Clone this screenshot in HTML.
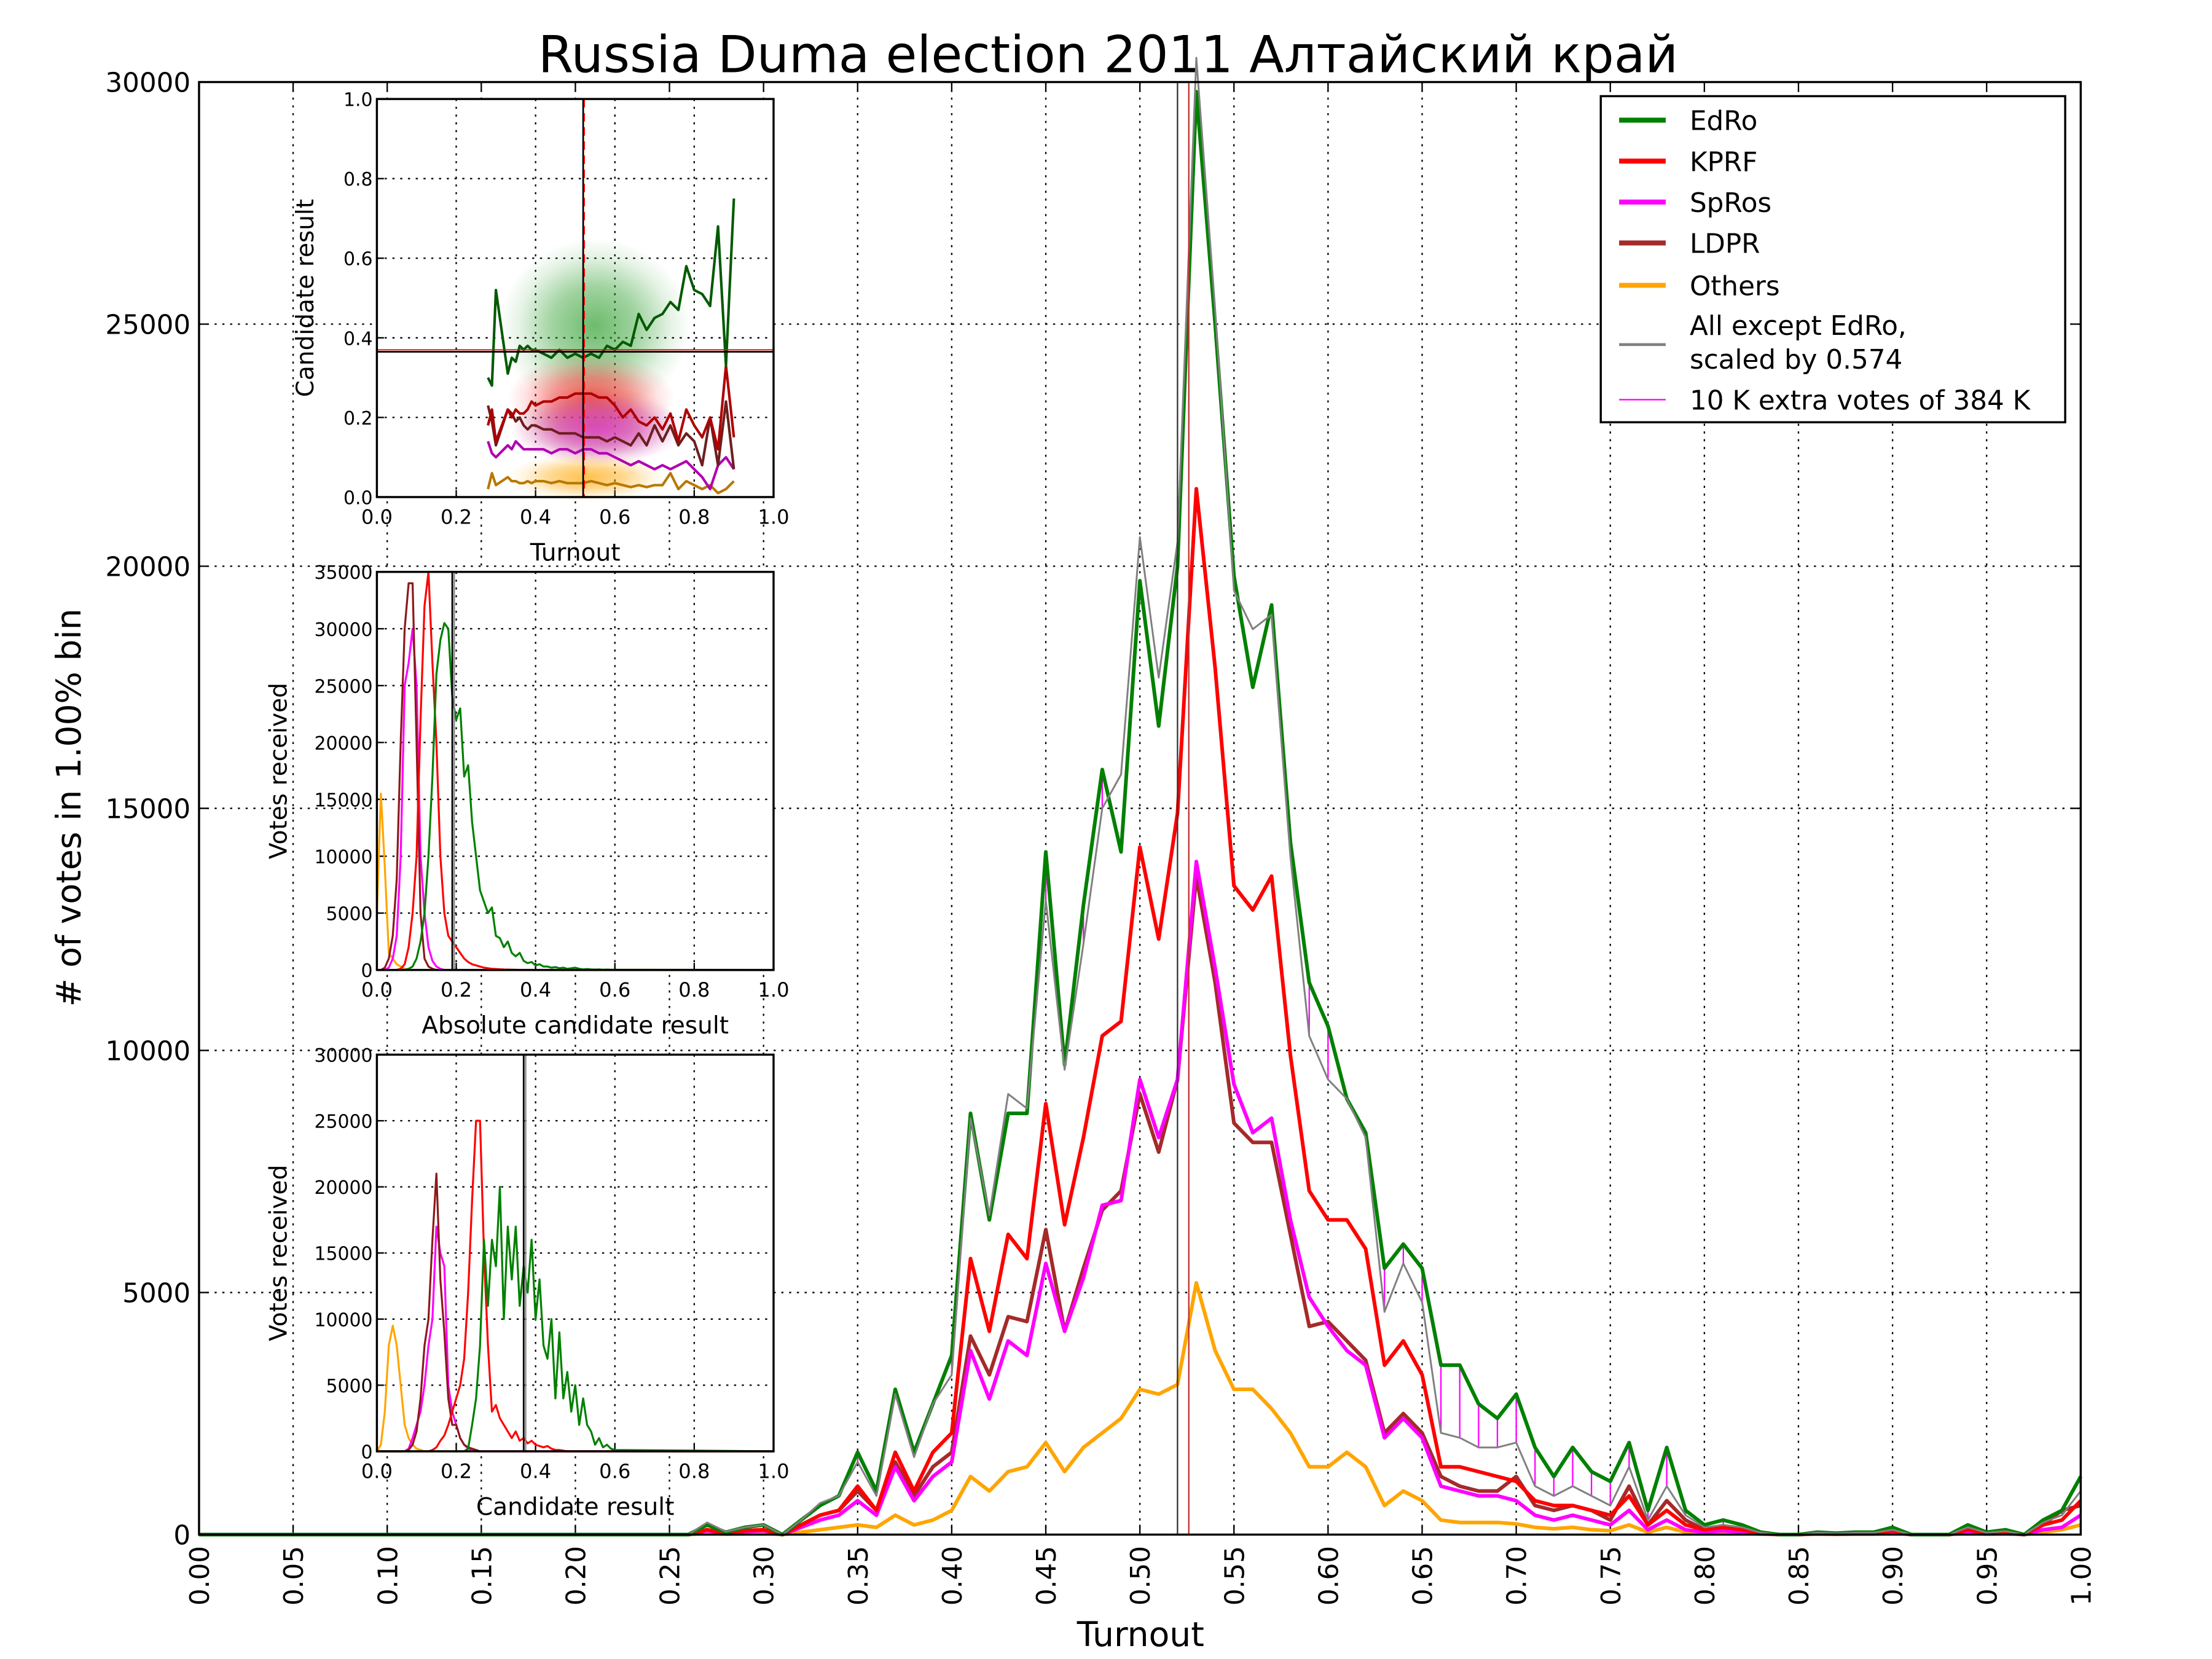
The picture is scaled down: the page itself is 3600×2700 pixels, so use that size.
<!DOCTYPE html>
<html><head><meta charset="utf-8">
<style>
html,body{margin:0;padding:0;background:#fff;}
svg{display:block;font-family:"DejaVu Sans","Liberation Sans","Noto Sans CJK SC",sans-serif;}
</style></head>
<body>
<svg id="chart" width="3600" height="2700" viewBox="0 0 1567 1175" xmlns="http://www.w3.org/2000/svg">
<rect x="0" y="0" width="1567" height="1175" fill="#fff"/>
<text x="785" y="51" font-size="36" text-anchor="middle">Russia Duma election 2011 Алтайский край</text>
<g id="main"></g>
<g id="ins1"></g>
<g id="ins2"></g>
<g id="ins3"></g>
<g id="legend"></g>
</svg>
<script>
// ---------- main chart data ----------
const turnoutStart = 0.26; // series below start are zero
const edro   = [0,200,50,150,200,0,300,600,800,1700,900,3000,1700,2700,3700,8700,6500,8700,8700,14100,9700,13000,15800,14100,19700,16700,20000,29800,25000,19800,17500,19200,14300,11400,10500,9000,8300,5500,6000,5500,3500,3500,2700,2400,2900,1800,1200,1800,1300,1100,1900,500,1800,500,200,300,200,50,0,0,50,30,50,50,150,0,0,0,200,50,100,0,300,500,1200];
const kprf   = [0,100,30,80,100,0,200,400,500,1000,500,1700,900,1700,2100,5700,4200,6200,5700,8900,6400,8200,10300,10600,14200,12300,14900,21600,17900,13400,12900,13600,9900,7100,6500,6500,5900,3500,4000,3300,1400,1400,1300,1200,1100,700,600,600,500,400,800,200,500,200,100,150,100,30,0,0,30,20,30,30,80,0,0,0,100,30,50,0,200,300,700];
const spros  = [0,80,20,60,80,0,150,300,400,700,400,1400,700,1200,1500,3800,2800,4000,3700,5600,4200,5300,6800,6900,9400,8200,9400,13900,11700,9300,8300,8600,6500,4900,4300,3800,3500,2000,2400,2000,1000,900,800,800,700,400,300,400,300,200,500,100,300,100,50,80,50,20,0,0,20,10,20,20,50,0,0,0,60,20,30,0,100,150,400];
const ldpr   = [0,100,30,80,100,0,200,400,500,900,500,1500,800,1400,1700,4100,3300,4500,4400,6300,4200,5500,6700,7100,9100,7900,9400,13600,11400,8500,8100,8100,6200,4300,4400,4000,3600,2100,2500,2100,1200,1000,900,900,1200,600,500,600,500,300,1000,200,700,300,100,150,100,30,0,0,30,20,30,30,80,0,0,0,100,30,50,0,200,500,600];
const others = [0,30,10,20,30,0,50,100,150,200,150,400,200,300,500,1200,900,1300,1400,1900,1300,1800,2100,2400,3000,2900,3100,5200,3800,3000,3000,2600,2100,1400,1400,1700,1400,600,900,700,300,250,250,250,220,150,120,150,100,80,200,50,150,50,30,40,30,10,0,0,10,5,10,10,30,0,0,0,30,10,20,0,50,100,200];
const allExcept = [0,250,60,150,200,0,300,650,800,1500,800,2900,1600,2700,3300,8600,6600,9100,8800,13100,9600,12200,15000,15700,20600,17700,20500,30500,25300,19500,18700,19000,14000,10300,9400,9000,8200,4600,5600,4800,2100,2000,1800,1800,1900,1000,800,1000,800,600,1400,300,1000,400,150,200,150,40,0,0,40,25,40,40,100,0,0,0,150,40,70,0,250,400,900];
const xTicks = ["0.00","0.05","0.10","0.15","0.20","0.25","0.30","0.35","0.40","0.45","0.50","0.55","0.60","0.65","0.70","0.75","0.80","0.85","0.90","0.95","1.00"];
const yTicks = [0,5000,10000,15000,20000,25000,30000];
const meanTurnoutLines = [0.52, 0.526];

// ---------- inset 1 (scatter) data: mean result per turnout bin ----------
const ins1Turnout = [0.28,0.29,0.30,0.33,0.34,0.35,0.36,0.37,0.38,0.39,0.40,0.42,0.44,0.46,0.48,0.50,0.52,0.54,0.56,0.58,0.60,0.62,0.64,0.66,0.68,0.70,0.72,0.74,0.76,0.78,0.80,0.82,0.84,0.86,0.88,0.90];
const ins1EdRo  = [0.30,0.28,0.52,0.31,0.35,0.34,0.38,0.37,0.38,0.37,0.37,0.36,0.35,0.37,0.35,0.36,0.35,0.36,0.35,0.38,0.37,0.39,0.38,0.46,0.42,0.45,0.46,0.49,0.47,0.58,0.52,0.51,0.48,0.68,0.33,0.75];
const ins1Kprf  = [0.18,0.22,0.14,0.22,0.20,0.22,0.21,0.21,0.22,0.24,0.23,0.24,0.24,0.25,0.25,0.26,0.26,0.26,0.25,0.25,0.23,0.20,0.22,0.19,0.18,0.20,0.17,0.21,0.14,0.22,0.18,0.15,0.20,0.12,0.33,0.15];
const ins1Ldpr  = [0.23,0.19,0.13,0.22,0.21,0.19,0.20,0.18,0.17,0.18,0.18,0.17,0.17,0.16,0.16,0.16,0.15,0.15,0.15,0.14,0.15,0.14,0.13,0.16,0.13,0.18,0.14,0.18,0.13,0.16,0.14,0.08,0.20,0.08,0.24,0.07];
const ins1Spros = [0.14,0.11,0.10,0.13,0.12,0.14,0.13,0.12,0.12,0.12,0.12,0.12,0.11,0.12,0.12,0.11,0.12,0.12,0.11,0.11,0.10,0.09,0.08,0.09,0.08,0.07,0.08,0.07,0.08,0.09,0.07,0.05,0.02,0.08,0.10,0.07];
const ins1Others= [0.02,0.06,0.03,0.05,0.04,0.04,0.035,0.035,0.04,0.035,0.04,0.04,0.035,0.04,0.035,0.035,0.035,0.04,0.035,0.03,0.035,0.03,0.025,0.03,0.025,0.03,0.03,0.06,0.02,0.04,0.03,0.02,0.03,0.01,0.02,0.04];

// ---------- inset 2 (absolute candidate result histograms) ----------
const ins2Bins = Array.from({length:61},(_,i)=>i/100);
const ins2EdRo  = [0,0,0,0,0,0,0,0,100,300,1000,2500,5000,10000,17000,26000,29000,30500,30000,24000,22000,23000,17000,18000,13000,10000,7000,6000,5000,5500,3000,2800,2000,2500,1500,1200,1500,800,600,700,400,500,300,300,200,250,150,200,100,150,200,100,50,80,50,30,50,20,30,20,10];
const ins2Kprf  = [0,0,0,0,0,0,100,500,2000,5000,10000,22000,32000,35000,27000,20000,10000,5000,3000,2500,2000,1500,1000,700,500,400,300,200,150,100,80,60,40,30,20,10,0,0,0,0,0,0,0,0,0,0,0,0,0,0,0,0,0,0,0,0,0,0,0,0,0];
const ins2Ldpr  = [0,0,200,1000,3000,8000,20000,30000,34000,34000,20000,5000,1000,300,100,0,0,0,0,0,0,0,0,0,0,0,0,0,0,0,0,0,0,0,0,0,0,0,0,0,0,0,0,0,0,0,0,0,0,0,0,0,0,0,0,0,0,0,0,0,0];
const ins2Spros = [0,0,0,200,1000,3000,10000,25000,27000,30000,25000,10000,5000,2000,800,300,100,0,0,0,0,0,0,0,0,0,0,0,0,0,0,0,0,0,0,0,0,0,0,0,0,0,0,0,0,0,0,0,0,0,0,0,0,0,0,0,0,0,0,0,0];
const ins2Others= [5000,15500,9000,1500,1000,500,300,100,0,0,0,0,0,0,0,0,0,0,0,0,0,0,0,0,0,0,0,0,0,0,0,0,0,0,0,0,0,0,0,0,0,0,0,0,0,0,0,0,0,0,0,0,0,0,0,0,0,0,0,0,0];
const ins2Ticks = [0,5000,10000,15000,20000,25000,30000,35000];

// ---------- inset 3 (candidate result histograms) ----------
const ins3EdRo  = [0,0,0,0,0,0,0,0,0,0,0,0,0,0,0,0,0,0,0,0,0,0,0,200,2000,4000,8000,16000,11000,16000,14000,20000,10000,17000,13000,17000,11000,14000,12000,16000,10000,13000,8000,7000,10000,4000,9000,4000,6000,3000,5000,2000,4000,2000,1500,500,1000,300,500,200,100];
const ins3Kprf  = [0,0,0,0,0,0,0,0,0,0,0,0,0,0,100,300,800,1200,2000,3000,4000,5000,7000,12000,19000,25000,25000,15000,8000,3000,3500,2500,2000,1500,1000,1500,800,1000,600,800,500,400,300,400,200,100,100,50,0,0,0,0,0,0,0,0,0,0,0,0,0];
const ins3Ldpr  = [0,0,0,0,0,0,0,0,100,500,1500,4000,8000,10000,16000,21000,13000,9000,4000,2000,2000,1000,500,300,200,100,0,0,0,0,0,0,0,0,0,0,0,0,0,0,0,0,0,0,0,0,0,0,0,0,0,0,0,0,0,0,0,0,0,0,0];
const ins3Spros = [0,0,0,0,0,0,0,0,200,1000,2000,3000,5000,8000,10000,17000,15000,14000,5000,3000,2000,1000,500,200,100,0,0,0,0,0,0,0,0,0,0,0,0,0,0,0,0,0,0,0,0,0,0,0,0,0,0,0,0,0,0,0,0,0,0,0,0];
const ins3Others= [0,500,3000,8000,9500,8000,5000,2000,1000,500,200,100,0,0,0,0,0,0,0,0,0,0,0,0,0,0,0,0,0,0,0,0,0,0,0,0,0,0,0,0,0,0,0,0,0,0,0,0,0,0,0,0,0,0,0,0,0,0,0,0,0];
const ins3Ticks = [0,5000,10000,15000,20000,25000,30000];

const NS="http://www.w3.org/2000/svg";
function mk(parent,tag,attrs,text){const e=document.createElementNS(NS,tag);for(const k in attrs)e.setAttribute(k,attrs[k]);if(text!==undefined)e.textContent=text;parent.appendChild(e);return e;}
function poly(parent,pts,color,w,name){
  const p=mk(parent,'polyline',{points:pts.map(p=>p[0].toFixed(2)+','+p[1].toFixed(2)).join(' '),fill:'none',stroke:color,'stroke-width':w,'stroke-linejoin':'round'});
  
  
  return p;
}

// ---------- main ----------
const M={l:141,r:1474,t:58,b:1087};
const mx=v=>M.l+(M.r-M.l)*v;
const my=v=>M.b-(M.b-M.t)*v/30000;
const main=document.getElementById('main');
xTicks.forEach(t=>{const v=parseFloat(t);const x=mx(v);
  if(v>0&&v<1){const g=mk(main,'line',{x1:x,x2:x,y1:M.t,y2:M.b,stroke:'#000','stroke-width':1,'stroke-dasharray':'1.5,4'});}
  mk(main,'line',{x1:x,x2:x,y1:M.b,y2:M.b-7,stroke:'#000','stroke-width':1});
  mk(main,'line',{x1:x,x2:x,y1:M.t,y2:M.t+7,stroke:'#000','stroke-width':1});
  const tx=mk(main,'text',{x:0,y:0,'font-size':19,'text-anchor':'end',transform:`translate(${x+7},${M.b+8}) rotate(-90)`},t);
  
});
yTicks.forEach(v=>{const y=my(v);
  if(v>0&&v<30000){const g=mk(main,'line',{x1:M.l,x2:M.r,y1:y,y2:y,stroke:'#000','stroke-width':1,'stroke-dasharray':'1.5,4'});}
  mk(main,'line',{x1:M.l,x2:M.l+7,y1:y,y2:y,stroke:'#000'});
  mk(main,'line',{x1:M.r,x2:M.r-7,y1:y,y2:y,stroke:'#000'});
  const tx=mk(main,'text',{x:M.l-6,y:y+7,'font-size':19,'text-anchor':'end'},String(v));
  
});
const xl=mk(main,'text',{x:808,y:1166,'font-size':24,'text-anchor':'middle'},'Turnout');

const yl=mk(main,'text',{x:0,y:0,'font-size':24,'text-anchor':'middle',transform:'translate(57,572) rotate(-90)'},'# of votes in 1.00% bin');


function seriesPts(arr){const pts=[[mx(0),my(0)]];arr.forEach((v,i)=>{pts.push([mx(turnoutStart+i*0.01),my(v)]);});return pts;}
edro.forEach((v,i)=>{const g=allExcept[i];if(v>g){const x=mx(turnoutStart+i*0.01);const l=mk(main,'line',{x1:x,x2:x,y1:my(g),y2:my(v),stroke:'#ff00ff','stroke-width':1});}});
poly(main,seriesPts(others),'#ffa500',2.6,'others-line');
poly(main,seriesPts(ldpr),'#a52a2a',2.6,'ldpr-line');
poly(main,seriesPts(spros),'#ff00ff',2.6,'spros-line');
poly(main,seriesPts(kprf),'#ff0000',2.6,'kprf-line');
poly(main,seriesPts(edro),'#008000',2.6,'edro-line');
poly(main,seriesPts(allExcept),'#808080',1.3,'all-except-edro-line');
const ml1=mk(main,'line',{x1:mx(meanTurnoutLines[0]),x2:mx(meanTurnoutLines[0]),y1:M.t,y2:M.b,stroke:'#333','stroke-width':1});

const ml2=mk(main,'line',{x1:mx(meanTurnoutLines[1]),x2:mx(meanTurnoutLines[1]),y1:M.t,y2:M.b,stroke:'#c03030','stroke-width':1});

const fr=mk(main,'rect',{x:M.l,y:M.t,width:M.r-M.l,height:M.b-M.t,fill:'none',stroke:'#000','stroke-width':1.5});


function inset(gid,box,yMax,yTickVals,xLabel,yLabel,name,tickFs){
  const g=document.getElementById(gid);
  
  
  mk(g,'rect',{x:box.l,y:box.t,width:box.r-box.l,height:box.b-box.t,fill:'#fff'});
  const fx=v=>box.l+(box.r-box.l)*v, fy=v=>box.b-(box.b-box.t)*v/yMax;
  [0,0.2,0.4,0.6,0.8,1.0].forEach(v=>{const x=fx(v);
    if(v>0&&v<1)mk(g,'line',{x1:x,x2:x,y1:box.t,y2:box.b,stroke:'#000','stroke-width':1,'stroke-dasharray':'1.5,4'});
    mk(g,'line',{x1:x,x2:x,y1:box.b,y2:box.b-5,stroke:'#000'});
    const t=mk(g,'text',{x:x,y:box.b+19,'font-size':14,'text-anchor':'middle'},v.toFixed(1));
    
  });
  yTickVals.forEach(v=>{const y=fy(v);
    if(v>0&&v<yMax)mk(g,'line',{x1:box.l,x2:box.r,y1:y,y2:y,stroke:'#000','stroke-width':1,'stroke-dasharray':'1.5,4'});
    mk(g,'line',{x1:box.l,x2:box.l+5,y1:y,y2:y,stroke:'#000'});
    const t=mk(g,'text',{x:box.l-3,y:y+5,'font-size':tickFs,'text-anchor':'end'},yMax===1?v.toFixed(1):String(v));
    
  });
  const xt=mk(g,'text',{x:(box.l+box.r)/2,y:box.b+45,'font-size':17,'text-anchor':'middle'},xLabel);
  
  const yt=mk(g,'text',{x:0,y:0,'font-size':17,'text-anchor':'middle',transform:`translate(${box.l-(yMax===1?45:64)},${(box.t+box.b)/2}) rotate(-90)`},yLabel);
  
  return {g,fx,fy};
}

const b1={l:267,r:548,t:70,b:352};
const I1=inset('ins1',b1,1,[0,0.2,0.4,0.6,0.8,1.0],'Turnout','Candidate result','scatter-inset',13);
const defs=mk(document.getElementById('chart'),'defs',{});
[['gG','#2e9e2e'],['gR','#ff2020'],['gM','#e040e0'],['gB','#b03a3a'],['gO','#ffa500']].forEach(([id,c])=>{
  const rg=mk(defs,'radialGradient',{id:id});
  mk(rg,'stop',{offset:'0','stop-color':c,'stop-opacity':0.7});
  mk(rg,'stop',{offset:'0.45','stop-color':c,'stop-opacity':0.45});
  mk(rg,'stop',{offset:'0.8','stop-color':c,'stop-opacity':0.12});
  mk(rg,'stop',{offset:'1','stop-color':c,'stop-opacity':0});
});
const clouds=[['gG',0.55,0.43,0.24,0.22,'edro-scatter-cloud'],['gR',0.54,0.25,0.21,0.11,'kprf-scatter-cloud'],['gB',0.55,0.18,0.21,0.10,'ldpr-scatter-cloud'],['gM',0.56,0.17,0.22,0.09,'spros-scatter-cloud'],['gO',0.53,0.05,0.2,0.06,'others-scatter-cloud']];
clouds.forEach(c=>{const e=mk(I1.g,'ellipse',{cx:I1.fx(c[1]),cy:I1.fy(c[2]),rx:(b1.r-b1.l)*c[3],ry:(b1.b-b1.t)*c[4],fill:`url(#${c[0]})`});});
function ins1Line(arr,color,name){poly(I1.g,ins1Turnout.map((t,i)=>[I1.fx(t),I1.fy(arr[i])]),color,1.8,name);}
ins1Line(ins1Others,'#b87800','others-mean-line');
ins1Line(ins1Spros,'#b000b0','spros-mean-line');
ins1Line(ins1Ldpr,'#6e1e1e','ldpr-mean-line');
ins1Line(ins1Kprf,'#b00000','kprf-mean-line');
ins1Line(ins1EdRo,'#005a00','edro-mean-line');
mk(I1.g,'line',{x1:b1.l,x2:b1.r,y1:I1.fy(0.365),y2:I1.fy(0.365),stroke:'#000','stroke-width':1.2});
mk(I1.g,'line',{x1:b1.l,x2:b1.r,y1:I1.fy(0.37),y2:I1.fy(0.37),stroke:'#f00','stroke-width':0.8});
mk(I1.g,'line',{x1:I1.fx(0.52),x2:I1.fx(0.52),y1:b1.t,y2:b1.b,stroke:'#000','stroke-width':1.2});
mk(I1.g,'line',{x1:I1.fx(0.523),x2:I1.fx(0.523),y1:b1.t,y2:b1.b,stroke:'#f00','stroke-width':0.8,'stroke-dasharray':'6,4'});
mk(I1.g,'rect',{x:b1.l,y:b1.t,width:b1.r-b1.l,height:b1.b-b1.t,fill:'none',stroke:'#000','stroke-width':1.5});

const b2={l:267,r:548,t:405,b:687};
const I2=inset('ins2',b2,35000,ins2Ticks,'Absolute candidate result','Votes received','absolute-result-inset',13);
function hist(I,arr,color,name){poly(I.g,arr.map((v,i)=>[I.fx(ins2Bins[i]),I.fy(v)]).concat([[I.fx(1),I.fy(0)]]),color,1.4,name);}
hist(I2,ins2Others,'#ffa500','others-abs-hist');
hist(I2,ins2Spros,'#ff00ff','spros-abs-hist');
hist(I2,ins2Ldpr,'#8b1a1a','ldpr-abs-hist');
hist(I2,ins2Kprf,'#ff0000','kprf-abs-hist');
hist(I2,ins2EdRo,'#008000','edro-abs-hist');
mk(I2.g,'line',{x1:I2.fx(0.19),x2:I2.fx(0.19),y1:b2.t,y2:b2.b,stroke:'#000','stroke-width':1.2});
mk(I2.g,'line',{x1:I2.fx(0.195),x2:I2.fx(0.195),y1:b2.t,y2:b2.b,stroke:'#888','stroke-width':1});
mk(I2.g,'rect',{x:b2.l,y:b2.t,width:b2.r-b2.l,height:b2.b-b2.t,fill:'none',stroke:'#000','stroke-width':1.5});

const b3={l:267,r:548,t:747,b:1028};
const I3=inset('ins3',b3,30000,ins3Ticks,'Candidate result','Votes received','candidate-result-inset',13);
hist(I3,ins3Others,'#ffa500','others-result-hist');
hist(I3,ins3Spros,'#ff00ff','spros-result-hist');
hist(I3,ins3Ldpr,'#8b1a1a','ldpr-result-hist');
hist(I3,ins3Kprf,'#ff0000','kprf-result-hist');
hist(I3,ins3EdRo,'#008000','edro-result-hist');
mk(I3.g,'line',{x1:I3.fx(0.37),x2:I3.fx(0.37),y1:b3.t,y2:b3.b,stroke:'#000','stroke-width':1.2});
mk(I3.g,'line',{x1:I3.fx(0.375),x2:I3.fx(0.375),y1:b3.t,y2:b3.b,stroke:'#888','stroke-width':1});
mk(I3.g,'rect',{x:b3.l,y:b3.t,width:b3.r-b3.l,height:b3.b-b3.t,fill:'none',stroke:'#000','stroke-width':1.5});

const lg=document.getElementById('legend');


mk(lg,'rect',{x:1134,y:68,width:329,height:231,fill:'#fff',stroke:'#000','stroke-width':1.5});
const entries=[['EdRo','#008000',3.5,85],['KPRF','#ff0000',3.5,114],['SpRos','#ff00ff',3.5,143],['LDPR','#a52a2a',3.5,172],['Others','#ffa500',3.5,202],['','#808080',2,244],['10 K extra votes of 384 K','#ff00ff',1,283]];
entries.forEach(e=>{
  const le=mk(lg,'line',{x1:1147,x2:1180,y1:e[3],y2:e[3],stroke:e[1],'stroke-width':e[2]});
  
  if(e[0]){const t=mk(lg,'text',{x:1197,y:e[3]+7,'font-size':19},e[0]);}
});
const t1=mk(lg,'text',{x:1197,y:237,'font-size':19},'All except EdRo,');

const t2=mk(lg,'text',{x:1197,y:261,'font-size':19},'scaled by 0.574');

</script>
</body></html>
